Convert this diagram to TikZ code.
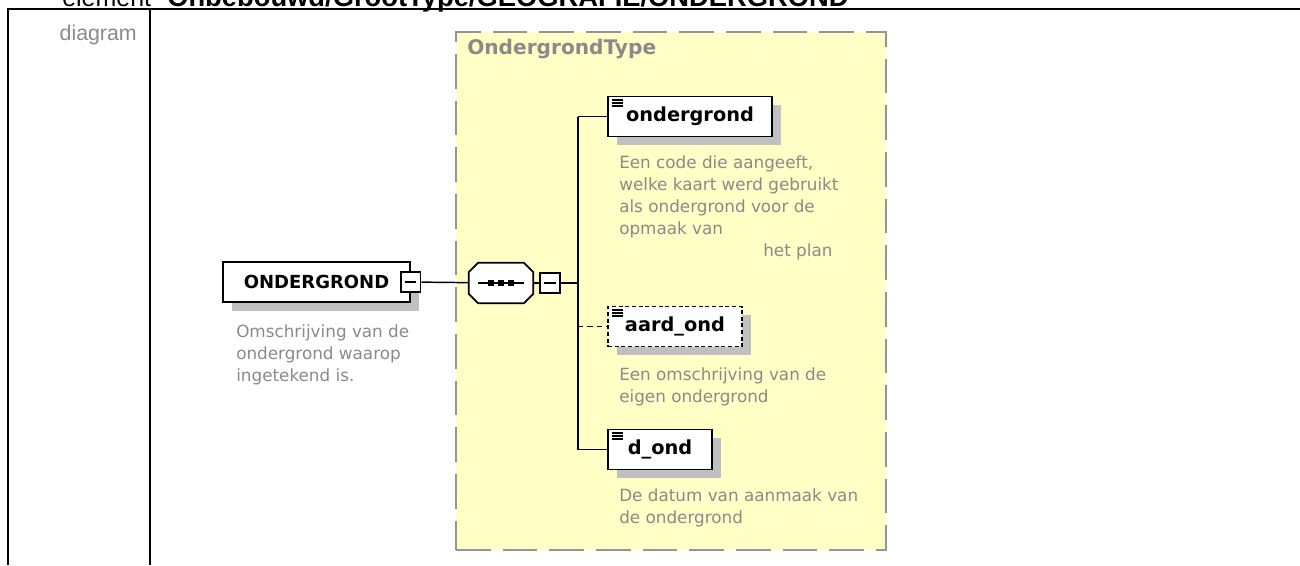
\documentclass[tikz,border=0pt]{standalone}
\usepackage{fontspec}
\setsansfont{DejaVu Sans}
\newfontfamily\hdrfont{Liberation Sans}
\usetikzlibrary{positioning,shadows}
\definecolor{xsyellow}{HTML}{FFFFC6}
\definecolor{xsdash}{HTML}{959595}
\definecolor{xsgray}{HTML}{8A8A8A}
\definecolor{xsshadow}{HTML}{C0C0C0}

% outline of a sequence compositor, cut at the corners
\newcommand\octpath[1]{([xshift=7pt]#1.north west) -- ([xshift=-7pt]#1.north east)
  -- ([yshift=-7pt]#1.north east) -- ([yshift=7pt]#1.south east)
  -- ([xshift=-7pt]#1.south east) -- ([xshift=7pt]#1.south west)
  -- ([yshift=7pt]#1.south west) -- ([yshift=-7pt]#1.north west) -- cycle}

\begin{document}
\begin{tikzpicture}[x=0.75pt,y=-0.75pt,
  elem/.style={draw=black, line width=1.4pt, fill=white, inner sep=0pt,
               font=\sffamily\bfseries\fontsize{13.5}{16}\selectfont, minimum height=30pt,
               drop shadow={shadow xshift=6.5pt, shadow yshift=-6.5pt, fill=xsshadow, opacity=1}},
  leaf/.style={elem, font=\sffamily\bfseries\fontsize{14.5}{17}\selectfont, path picture={
               \foreach \k in {2.6,4.9,7.2}
                 \draw[black, solid, line width=1.2pt] ([xshift=3.2pt,yshift=-\k pt]path picture bounding box.north west) -- ++(8pt,0);}},
  optleaf/.style={leaf, dash pattern=on 3pt off 2pt},
  expander/.style={draw=black, line width=1.3pt, fill=white, minimum size=14.5pt, inner sep=0pt,
               path picture={\draw[line width=1.3pt] ([xshift=3pt]path picture bounding box.west)
                 -- ([xshift=-3pt]path picture bounding box.east);}},
  seqbox/.style={minimum width=48pt, minimum height=30pt, inner sep=0pt},
  seqline/.style={draw=black, line width=1.3pt, fill=white},
  typebox/.style={draw=xsdash, fill=xsyellow, line width=1.5pt, dash pattern=on 26pt off 9pt,
               minimum width=322.5pt, minimum height=388.5pt, inner sep=0pt},
  desc/.style={font=\sffamily\fontsize{12.6}{16.5}\selectfont, text=xsgray, align=left,
               anchor=north west, inner sep=0pt},
  link/.style={line width=1.1pt},
  tline/.style={line width=1.6pt}
]
\useasboundingbox (0,0) rectangle (1300,565);
\clip (0,0) rectangle (1300,565);

% table frame and header
\draw[tline] (8,565) -- (8,9) -- (1300,9);
\draw[tline] (150,9) -- (150,565);
\node[font=\hdrfont\fontsize{18.75}{20}\selectfont, anchor=base west, inner sep=0pt] (ttl) at (62,6.5) {element};
\node[font=\hdrfont\bfseries\fontsize{20.5}{22}\selectfont, anchor=base west, inner sep=0pt] (ttlpath) at (167,6.5) {Onbebouwd/GrootType/GEOGRAFIE/ONDERGROND};
\node[font=\hdrfont\fontsize{16}{19}\selectfont, text=xsgray, anchor=base east, inner sep=0pt] (diag) at (137,40.5) {diagram};

% complex type
\node[typebox] (otype) at (671,291) {};
\node[font=\sffamily\bfseries\fontsize{15.1}{18}\selectfont, text=xsgray, anchor=base west, inner sep=0pt] (otypelbl) at (467,54) {OndergrondType};

% element and sequence
\node[elem, minimum width=140pt] (root) at (316.5,282) {ONDERGROND};
\node[expander] (rootx) at (root.east) {};
\node[desc] (rootdesc) at (236,324) {Omschrijving van de\\ondergrond waarop\\ingetekend is.};
\node[seqbox] (seq) at (501,283) {};
\fill[xsshadow, shift={(7,7)}] \octpath{seq};
\path[seqline] \octpath{seq};
\draw[line width=1.2pt] ([xshift=-17pt]seq.center) -- ([xshift=17pt]seq.center);
\foreach \d in {-7.5,0,7.5}
  \fill ([xshift=\d pt]seq.center) +(-2.2pt,-2.2pt) rectangle +(2.2pt,2.2pt);
\node[expander] (seqx) at (550,283) {};
\coordinate (bus) at (578,283);

% children
\node[leaf, minimum width=123pt] (ondergrond) at (690,116.5) {ondergrond};
\node[desc] (ondergronddesc) at (619,155) {Een code die aangeeft,\\welke kaart werd gebruikt\\als ondergrond voor de\\opmaak van\\\hspace*{108pt}het plan};
\node[optleaf, minimum width=100.5pt] (aardond) at (675,326.5) {aard\_ond};
\node[desc] (aardonddesc) at (619,367) {Een omschrijving van de\\eigen ondergrond};
\node[leaf, minimum width=78pt] (dond) at (660,449.5) {d\_ond};
\node[desc] (donddesc) at (619,488) {De datum van aanmaak van\\de ondergrond};

% connectors
\draw[link] (rootx) -- (seq);
\draw[link] (seq) -- (seqx);
\draw[link] (seqx) -- (bus);
\draw[link] (bus |- ondergrond.west) -- (bus |- dond.west);
\draw[link] (bus |- ondergrond.west) -- (ondergrond);
\draw[link, dash pattern=on 4pt off 3pt] (bus |- aardond.west) -- (aardond);
\draw[link] (bus |- dond.west) -- (dond);
\end{tikzpicture}
\end{document}
